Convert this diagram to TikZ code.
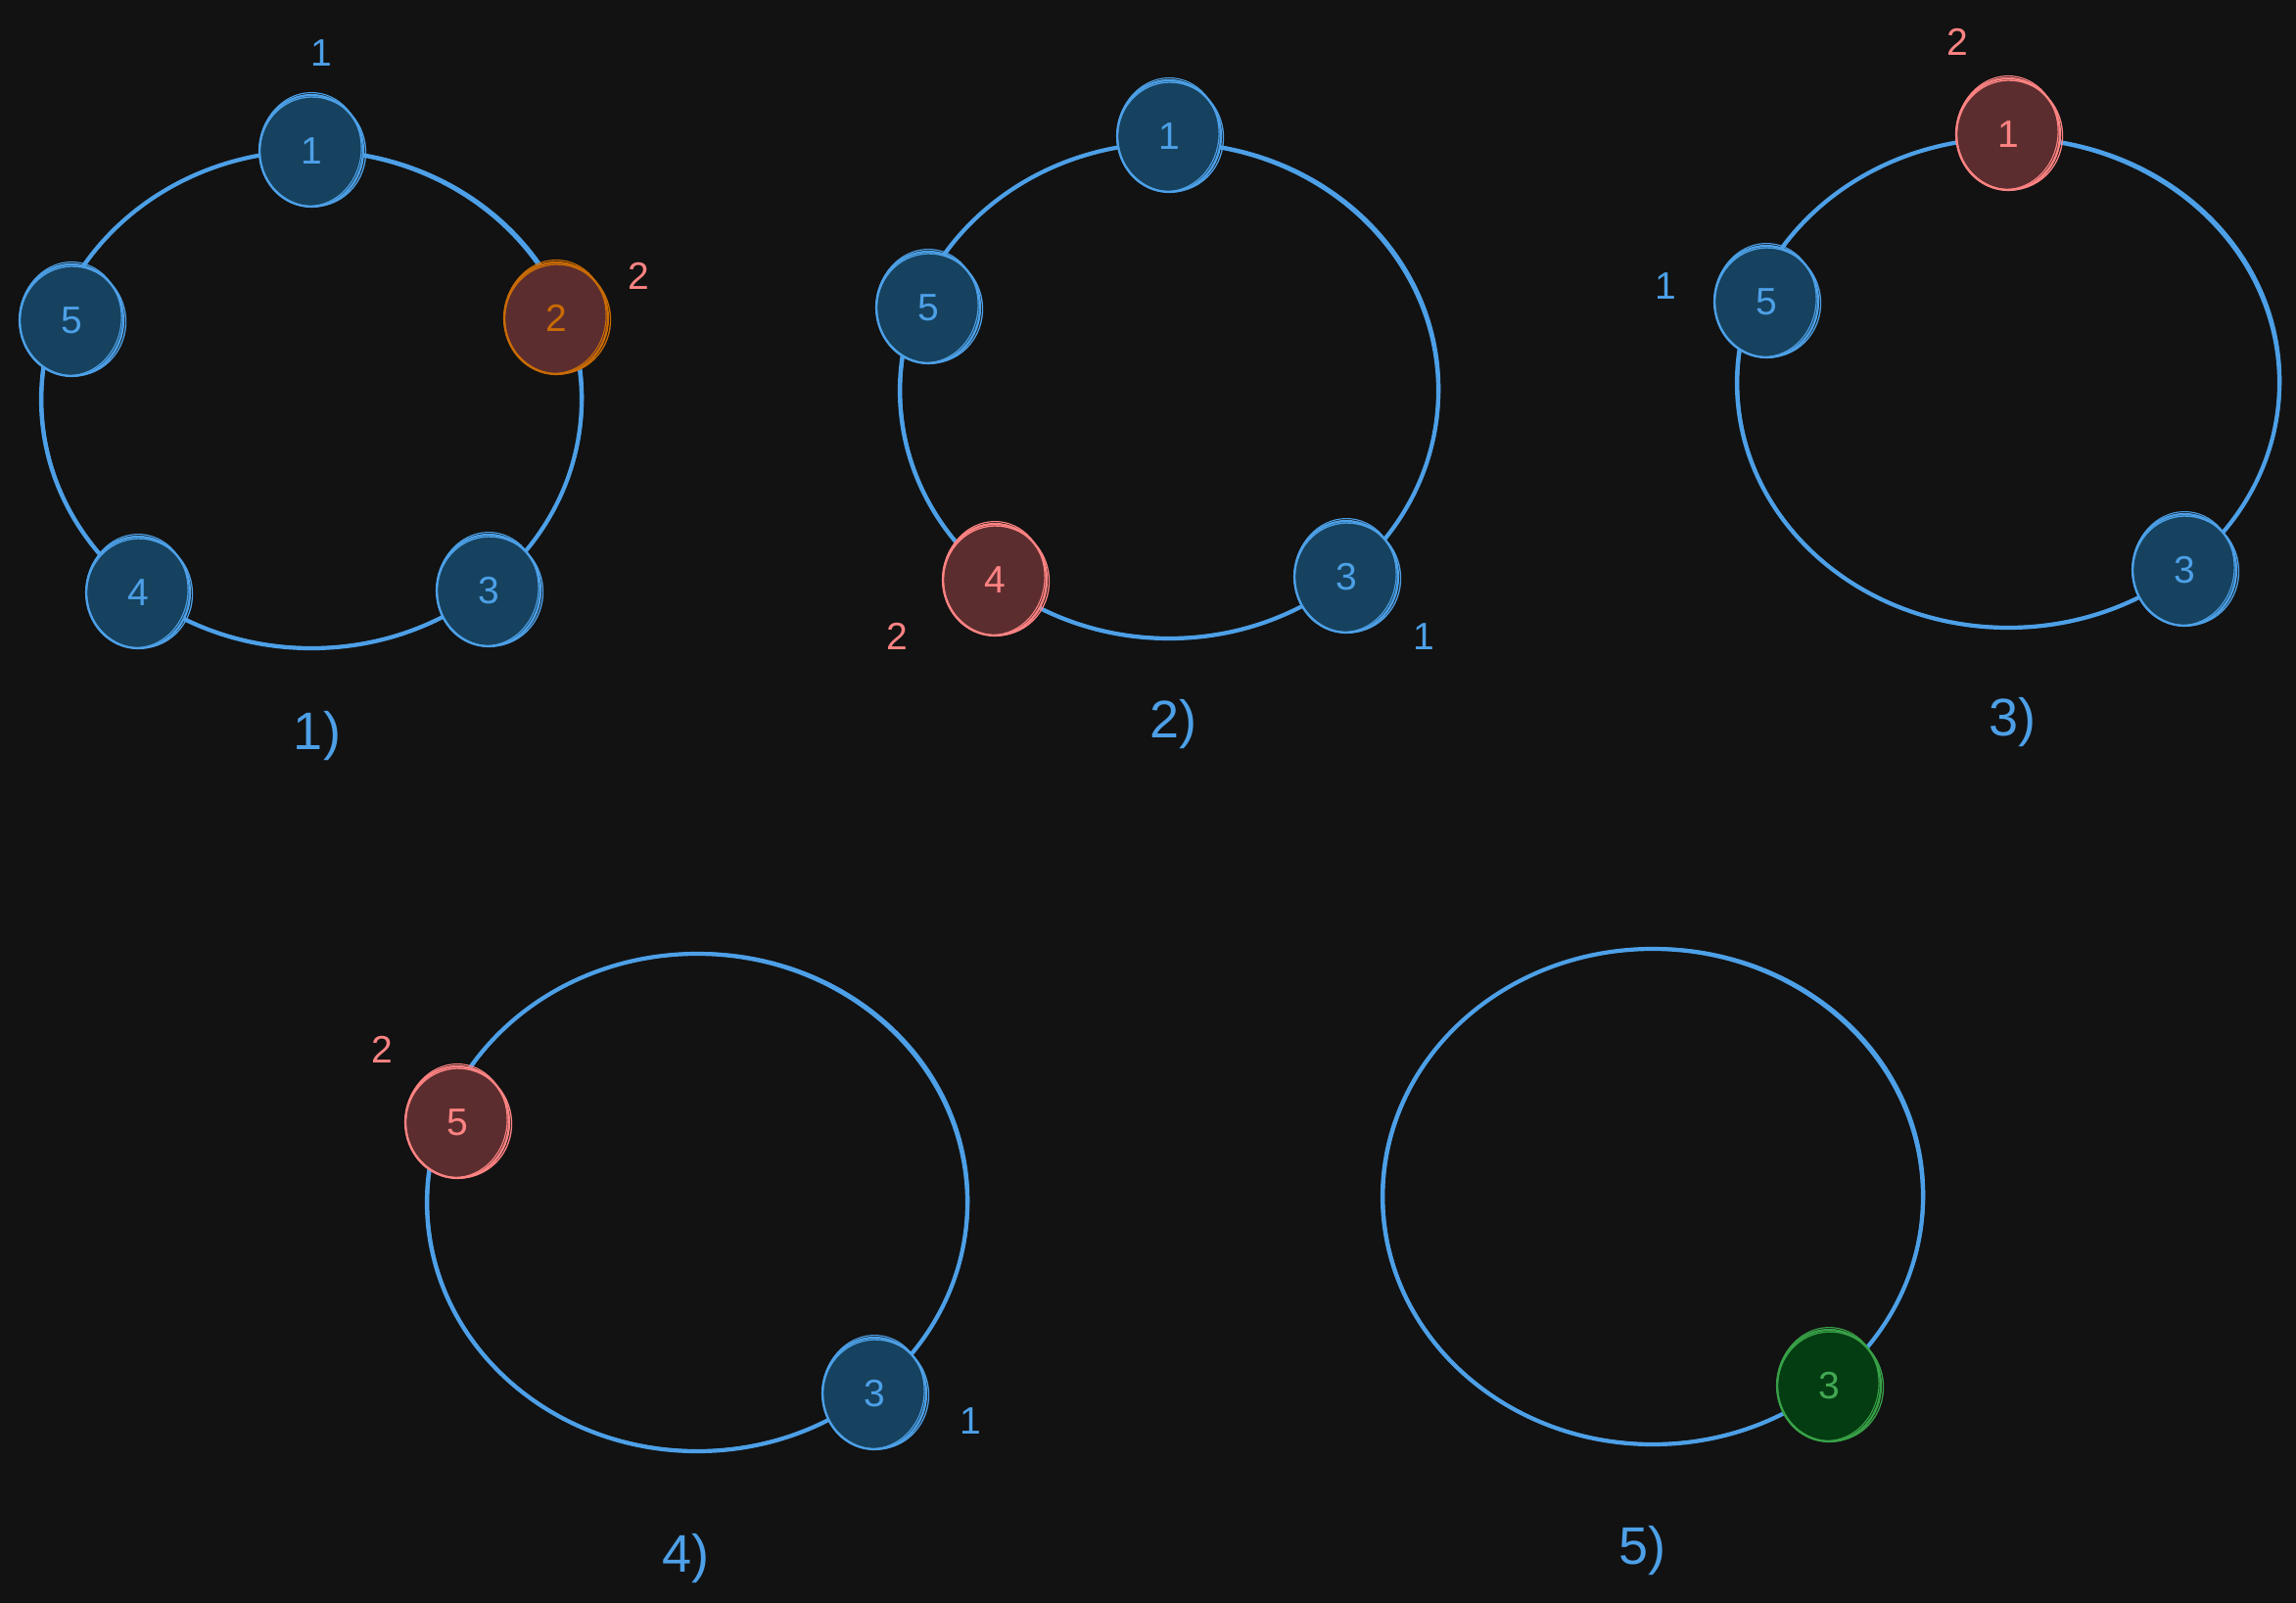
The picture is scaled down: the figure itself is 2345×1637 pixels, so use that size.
\documentclass[tikz,border=0pt]{standalone}
\usepackage{fontspec}
\setmainfont{Liberation Sans}
\usetikzlibrary{shapes.geometric}
\definecolor{bgc}{HTML}{121212}
\definecolor{ringblue}{HTML}{4DA0E7}
\definecolor{nodeblue}{HTML}{16425F}
\definecolor{redfill}{HTML}{5C2D2E}
\definecolor{redline}{HTML}{FF8383}
\definecolor{orangeline}{HTML}{C86B05}
\definecolor{greenfill}{HTML}{043D12}
\definecolor{greenline}{HTML}{38A047}
\definecolor{greentext}{HTML}{42A852}
\newcommand\skring[2]{%
  \draw[#2, line width=1.3pt] ([xshift=1.5pt,yshift=-1pt]#1.center) ellipse [x radius=54pt, y radius=56pt, rotate=8];
  \draw[#2, line width=1.1pt] ([xshift=-1pt,yshift=1.5pt]#1.center) ellipse [x radius=52pt, y radius=58pt, rotate=-6];
}
\newcommand\bigring[3]{%
  \draw[ring] (#1) ellipse [x radius=#2pt, y radius=#3pt];
  \draw[ringblue, line width=1.6pt] ([xshift=1.5pt,yshift=1pt]#1) ellipse [x radius=#2pt, y radius=#3pt, rotate=1.5];
}
\begin{document}
\begin{tikzpicture}[x=1pt,y=-1pt,
  ring/.style={draw=ringblue, line width=4.2pt},
  basenode/.style={ellipse, minimum width=106pt, minimum height=114pt, inner sep=0pt, line width=2.2pt,
    font=\fontsize{39}{39}\selectfont},
  bnode/.style={basenode, draw=ringblue, fill=nodeblue, text=ringblue},
  rnode/.style={basenode, draw=redline, fill=redfill, text=redline},
  onode/.style={basenode, draw=orangeline, fill=redfill, text=orangeline},
  gnode/.style={basenode, draw=greenline, fill=greenfill, text=greentext},
  blab/.style={text=ringblue, font=\fontsize{39}{39}\selectfont},
  rlab/.style={text=redline, font=\fontsize{39}{39}\selectfont},
  steplab/.style={text=ringblue, font=\fontsize{54}{54}\selectfont}]
\fill[bgc] (0,0) rectangle (2345,1637);
\useasboundingbox (0,0) rectangle (2345,1637);

% ---------- panel 1 ----------
\coordinate (c1) at (318,408);
\bigring{c1}{276}{254}
\node[bnode] (p1n1) at (318,154) {1};
\node[bnode] (p1n5) at (73,327) {5};
\node[onode] (p1n2) at (568,325) {2};
\node[bnode] (p1n4) at (141,605) {4};
\node[bnode] (p1n3) at (499,603) {3};
\skring{p1n1}{ringblue}
\skring{p1n5}{ringblue}
\skring{p1n2}{orangeline}
\skring{p1n4}{ringblue}
\skring{p1n3}{ringblue}
\node[blab] (p1l1) at (328,54) {1};
\node[rlab] (p1l2) at (652,282) {2};
\node[steplab] (p1cap) at (324,752) {1)};

% ---------- panel 2 ----------
\coordinate (c2) at (1194,399);
\bigring{c2}{275}{253}
\node[bnode] (p2n1) at (1194,139) {1};
\node[bnode] (p2n5) at (948,314) {5};
\node[rnode] (p2n4) at (1016,592) {4};
\node[bnode] (p2n3) at (1375,589) {3};
\skring{p2n1}{ringblue}
\skring{p2n5}{ringblue}
\skring{p2n4}{redline}
\skring{p2n3}{ringblue}
\node[rlab] (p2l2) at (916,650) {2};
\node[blab] (p2l1) at (1454,650) {1};
\node[steplab] (p2cap) at (1198,740) {2)};

% ---------- panel 3 ----------
\coordinate (c3) at (2051,391);
\bigring{c3}{277}{250}
\node[rnode] (p3n1) at (2051,137) {1};
\node[bnode] (p3n5) at (1804,308) {5};
\node[bnode] (p3n3) at (2231,582) {3};
\skring{p3n1}{redline}
\skring{p3n5}{ringblue}
\skring{p3n3}{ringblue}
\node[rlab] (p3l2) at (1999,43) {2};
\node[blab] (p3l1) at (1701,292) {1};
\node[steplab] (p3cap) at (2055,738) {3)};

% ---------- panel 4 ----------
\coordinate (c4) at (712,1228);
\bigring{c4}{276}{254}
\node[rnode] (p4n5) at (467,1146) {5};
\node[bnode] (p4n3) at (893,1423) {3};
\skring{p4n5}{redline}
\skring{p4n3}{ringblue}
\node[rlab] (p4l2) at (390,1072) {2};
\node[blab] (p4l1) at (991,1451) {1};
\node[steplab] (p4cap) at (700,1592) {4)};

% ---------- panel 5 ----------
\coordinate (c5) at (1688,1222);
\bigring{c5}{276}{253}
\node[gnode] (p5n3) at (1868,1415) {3};
\skring{p5n3}{greenline}
\node[steplab] (p5cap) at (1677,1584) {5)};
\end{tikzpicture}
\end{document}
